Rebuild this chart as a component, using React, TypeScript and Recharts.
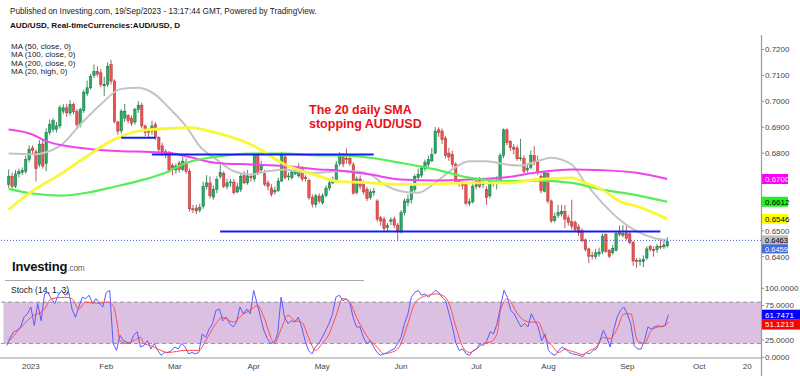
import React from 'react'
import {
  ComposedChart,
  Bar,
  Line,
  XAxis,
  YAxis,
  ReferenceLine,
  ReferenceArea,
} from 'recharts'

// AUD/USD daily, late Dec 2022 -> 19 Sep 2023. One slot per trading day,
// two empty slots on the left and empty future slots up to late October.
const LEAD_SLOTS = 2
const SLOT_COUNT = 223

// [open, high, low, close]
const CANDLES: [number, number, number, number][] = [
  [0.6679, 0.6737, 0.6666, 0.6711], [0.6711, 0.6725, 0.666, 0.6672], [0.6672, 0.6735, 0.6665, 0.672], [0.672, 0.674, 0.6705, 0.6728],
  [0.6726, 0.6745, 0.6715, 0.6733], [0.673, 0.679, 0.672, 0.6775], [0.6775, 0.683, 0.6765, 0.6815], [0.682, 0.683, 0.6795, 0.681],
  [0.6805, 0.6815, 0.669, 0.674], [0.6756, 0.685, 0.6745, 0.6835], [0.6835, 0.6855, 0.674, 0.675], [0.676, 0.6895, 0.673, 0.688],
  [0.688, 0.693, 0.687, 0.691], [0.6892, 0.6935, 0.688, 0.6925], [0.6892, 0.692, 0.688, 0.6905], [0.6905, 0.6985, 0.6895, 0.6975],
  [0.6962, 0.699, 0.695, 0.6975], [0.6975, 0.699, 0.694, 0.6955], [0.6955, 0.7005, 0.6945, 0.6988], [0.6988, 0.6995, 0.695, 0.696],
  [0.696, 0.697, 0.689, 0.691], [0.691, 0.6975, 0.69, 0.6968], [0.6965, 0.7045, 0.6955, 0.7035], [0.703, 0.708, 0.702, 0.7052],
  [0.7052, 0.7105, 0.7045, 0.7095], [0.71, 0.7142, 0.709, 0.7115], [0.7115, 0.7135, 0.7095, 0.7105], [0.711, 0.7125, 0.7055, 0.7065],
  [0.706, 0.7095, 0.702, 0.7065], [0.7065, 0.715, 0.7055, 0.7135], [0.7142, 0.716, 0.7065, 0.7078], [0.7078, 0.7085, 0.6915, 0.6922],
  [0.692, 0.6925, 0.687, 0.6885], [0.6886, 0.697, 0.6875, 0.6962], [0.6935, 0.699, 0.692, 0.6962], [0.6945, 0.695, 0.6915, 0.6925],
  [0.6935, 0.6945, 0.6905, 0.6915], [0.692, 0.6975, 0.691, 0.6968], [0.6968, 0.7, 0.6955, 0.6985], [0.6985, 0.6995, 0.6895, 0.6905],
  [0.6905, 0.691, 0.6865, 0.688], [0.6888, 0.6895, 0.686, 0.688], [0.6885, 0.6925, 0.687, 0.6905], [0.691, 0.692, 0.685, 0.686],
  [0.686, 0.6865, 0.68, 0.6815], [0.6828, 0.684, 0.679, 0.6805], [0.6805, 0.6815, 0.678, 0.6795], [0.68, 0.6808, 0.6725, 0.6733],
  [0.6752, 0.676, 0.6715, 0.6742], [0.6735, 0.676, 0.672, 0.675], [0.6762, 0.677, 0.6725, 0.6737], [0.6737, 0.6785, 0.673, 0.6769],
  [0.6765, 0.678, 0.672, 0.673], [0.673, 0.674, 0.6575, 0.6585], [0.6585, 0.66, 0.6568, 0.6582], [0.6588, 0.66, 0.6565, 0.6576],
  [0.658, 0.6605, 0.657, 0.659], [0.6595, 0.669, 0.6585, 0.6672], [0.6672, 0.6715, 0.666, 0.6685], [0.6685, 0.671, 0.6625, 0.6635],
  [0.663, 0.6675, 0.662, 0.666], [0.666, 0.671, 0.6645, 0.6698], [0.671, 0.6755, 0.67, 0.6725], [0.6722, 0.673, 0.6665, 0.6672],
  [0.6672, 0.67, 0.666, 0.6685], [0.6685, 0.67, 0.667, 0.6689], [0.6688, 0.67, 0.664, 0.6647], [0.665, 0.6685, 0.6645, 0.667],
  [0.666, 0.6725, 0.665, 0.671], [0.6713, 0.673, 0.668, 0.6685], [0.6685, 0.6735, 0.6678, 0.6712], [0.671, 0.672, 0.669, 0.6705],
  [0.67, 0.6795, 0.669, 0.679], [0.679, 0.6798, 0.6715, 0.6725], [0.6735, 0.677, 0.6725, 0.6752], [0.672, 0.6735, 0.6672, 0.668],
  [0.6685, 0.6695, 0.6655, 0.6672], [0.6665, 0.668, 0.6632, 0.664], [0.665, 0.667, 0.664, 0.6655], [0.6655, 0.6705, 0.665, 0.6692],
  [0.6692, 0.6805, 0.6688, 0.679], [0.6785, 0.68, 0.6698, 0.6705], [0.671, 0.6725, 0.6695, 0.6712], [0.6705, 0.6735, 0.6698, 0.6727],
  [0.672, 0.6745, 0.6715, 0.6728], [0.6712, 0.676, 0.6705, 0.6745], [0.674, 0.675, 0.669, 0.67], [0.6705, 0.6715, 0.669, 0.6702],
  [0.6695, 0.6702, 0.662, 0.6628], [0.6628, 0.664, 0.659, 0.6603], [0.6602, 0.6642, 0.659, 0.6635], [0.6634, 0.6645, 0.6605, 0.6615],
  [0.6608, 0.6645, 0.66, 0.6635], [0.6637, 0.6675, 0.663, 0.6665], [0.6665, 0.6695, 0.6655, 0.6685], [0.6685, 0.671, 0.668, 0.6695],
  [0.669, 0.677, 0.6685, 0.6755], [0.676, 0.6805, 0.675, 0.679], [0.6788, 0.68, 0.6745, 0.6758], [0.678, 0.6818, 0.676, 0.6775],
  [0.678, 0.6795, 0.675, 0.676], [0.6755, 0.6765, 0.664, 0.6645], [0.6648, 0.671, 0.664, 0.67], [0.67, 0.6715, 0.666, 0.6672],
  [0.6685, 0.6695, 0.664, 0.665], [0.666, 0.667, 0.6615, 0.6625], [0.6628, 0.666, 0.662, 0.665], [0.665, 0.6665, 0.6635, 0.6652],
  [0.6615, 0.6622, 0.6535, 0.6545], [0.655, 0.6558, 0.652, 0.6538], [0.6545, 0.6555, 0.6495, 0.6508], [0.6512, 0.653, 0.6495, 0.652],
  [0.6537, 0.6552, 0.6522, 0.6542], [0.6546, 0.6555, 0.651, 0.6522], [0.6522, 0.653, 0.646, 0.65], [0.65, 0.658, 0.649, 0.657],
  [0.657, 0.6625, 0.656, 0.6615], [0.661, 0.664, 0.6595, 0.662], [0.662, 0.668, 0.6605, 0.6672], [0.666, 0.6718, 0.665, 0.671],
  [0.6705, 0.674, 0.6695, 0.6718], [0.6715, 0.6752, 0.6705, 0.6743], [0.674, 0.6775, 0.673, 0.6765], [0.6757, 0.679, 0.674, 0.6775],
  [0.677, 0.682, 0.6765, 0.6795], [0.68, 0.69, 0.6795, 0.6885], [0.689, 0.69, 0.6862, 0.688], [0.6885, 0.6895, 0.6835, 0.6852],
  [0.6858, 0.6865, 0.678, 0.679], [0.68, 0.682, 0.677, 0.6785], [0.6795, 0.681, 0.6745, 0.6757], [0.6757, 0.6765, 0.668, 0.6686],
  [0.669, 0.67, 0.667, 0.6682], [0.6685, 0.6695, 0.666, 0.6675], [0.668, 0.669, 0.6598, 0.6607], [0.6605, 0.6625, 0.6595, 0.6612],
  [0.6612, 0.669, 0.6605, 0.6672], [0.6672, 0.6705, 0.666, 0.669], [0.6695, 0.6708, 0.6665, 0.6672], [0.6678, 0.67, 0.6665, 0.6685],
  [0.666, 0.6672, 0.66, 0.6628], [0.6635, 0.67, 0.6625, 0.669], [0.6688, 0.67, 0.667, 0.6682], [0.6685, 0.671, 0.666, 0.6695],
  [0.669, 0.68, 0.6685, 0.679], [0.679, 0.6895, 0.678, 0.689], [0.689, 0.6895, 0.683, 0.684], [0.6845, 0.685, 0.6808, 0.6822],
  [0.6822, 0.6835, 0.6795, 0.6815], [0.682, 0.683, 0.677, 0.6778], [0.6778, 0.6855, 0.677, 0.6782], [0.678, 0.6792, 0.672, 0.673],
  [0.6735, 0.676, 0.6725, 0.6742], [0.6745, 0.681, 0.6738, 0.679], [0.679, 0.6827, 0.6752, 0.6763], [0.6765, 0.679, 0.6715, 0.6725],
  [0.671, 0.672, 0.6645, 0.6655], [0.6652, 0.673, 0.6648, 0.6725], [0.6722, 0.6728, 0.6605, 0.6615], [0.6615, 0.662, 0.653, 0.6538],
  [0.654, 0.657, 0.6532, 0.6555], [0.656, 0.66, 0.655, 0.657], [0.6565, 0.66, 0.6555, 0.6575], [0.6575, 0.66, 0.651, 0.6545],
  [0.655, 0.656, 0.652, 0.6533], [0.6535, 0.662, 0.6505, 0.6518], [0.6532, 0.654, 0.6495, 0.6505], [0.6515, 0.6525, 0.648, 0.6493],
  [0.65, 0.651, 0.6455, 0.6462], [0.6465, 0.647, 0.642, 0.6428], [0.643, 0.6435, 0.6375, 0.6402], [0.6405, 0.642, 0.639, 0.6402],
  [0.64, 0.643, 0.639, 0.6415], [0.641, 0.6435, 0.64, 0.6418], [0.642, 0.649, 0.641, 0.648], [0.6485, 0.649, 0.6415, 0.642],
  [0.6425, 0.643, 0.6395, 0.6402], [0.6415, 0.6445, 0.6408, 0.6432], [0.6425, 0.6495, 0.642, 0.649], [0.6495, 0.652, 0.6478, 0.6485],
  [0.6483, 0.6522, 0.6475, 0.649], [0.6492, 0.6522, 0.6465, 0.647], [0.6488, 0.6495, 0.6448, 0.6455], [0.6455, 0.646, 0.6365, 0.6383],
  [0.6385, 0.6395, 0.6357, 0.6382], [0.6383, 0.6395, 0.6365, 0.6385], [0.6382, 0.6405, 0.636, 0.639], [0.6395, 0.644, 0.6388, 0.643],
  [0.644, 0.6445, 0.642, 0.6428], [0.6428, 0.644, 0.64, 0.6425], [0.6428, 0.645, 0.6415, 0.644], [0.644, 0.6465, 0.6428, 0.6438],
  [0.6438, 0.647, 0.643, 0.6445], [0.6442, 0.6475, 0.6435, 0.6459],
]

// moving averages, [candle index, value]
const MA50: [number, number][] = [
  [0, 0.6582], [7, 0.6653], [15, 0.6717], [23, 0.6788], [31, 0.6853], [38, 0.6885], [47, 0.6895], [53, 0.6898],
  [61, 0.6878], [71, 0.6833], [81, 0.6756], [91, 0.6711], [96, 0.6692], [106, 0.6685], [115, 0.6679], [125, 0.6681],
  [135, 0.6685], [146, 0.6685], [155, 0.6698], [165, 0.6704], [169, 0.6685], [174, 0.6659], [179, 0.6614], [184, 0.6595],
  [193, 0.6546],
]
const MA100: [number, number][] = [
  [0, 0.6662], [7, 0.6644], [15, 0.6636], [23, 0.6647], [31, 0.667], [38, 0.6692], [46, 0.6724], [52, 0.6762],
  [61, 0.6786], [71, 0.6798], [81, 0.6798], [91, 0.6791], [96, 0.6791], [106, 0.6782], [115, 0.6762], [125, 0.6737],
  [135, 0.6705], [146, 0.6692], [155, 0.6694], [165, 0.6685], [174, 0.6659], [184, 0.6638], [193, 0.6612],
]
const MA200: [number, number][] = [
  [0, 0.6891], [7, 0.6872], [11, 0.6846], [17, 0.6827], [25, 0.6814], [33, 0.6807], [40, 0.6805], [47, 0.6801],
  [52, 0.6788], [61, 0.6762], [71, 0.6756], [81, 0.675], [91, 0.6737], [96, 0.6734], [106, 0.6717], [115, 0.6698],
  [125, 0.6694], [135, 0.6698], [146, 0.6707], [155, 0.6726], [165, 0.6737], [174, 0.6734], [184, 0.6724], [193, 0.67],
]
const MA20_HIGH: [number, number][] = [
  [0, 0.6798], [7, 0.6795], [15, 0.6827], [21, 0.691], [27, 0.6988], [33, 0.7048], [38, 0.7052], [43, 0.7026],
  [47, 0.6975], [52, 0.6904], [56, 0.6827], [61, 0.6775], [66, 0.673], [71, 0.6717], [76, 0.673], [81, 0.6737],
  [86, 0.6726], [91, 0.6724], [96, 0.673], [101, 0.673], [106, 0.6717], [110, 0.6679], [115, 0.6653], [120, 0.6647],
  [125, 0.6685], [130, 0.6737], [135, 0.6769], [140, 0.6769], [146, 0.6756], [150, 0.6752], [155, 0.6769], [159, 0.6782],
  [165, 0.6756], [169, 0.6685], [174, 0.6608], [179, 0.6544], [184, 0.6499], [189, 0.6473], [193, 0.6463],
]

// Stoch (14, 1, 3): %K per candle, %D read at sample candles
const STOCH_K: number[] = [
  17, 29, 37, 39, 44, 58, 63, 73, 46, 78, 53, 92, 94, 85, 78, 90, 97, 90, 96, 70,
  58, 73, 87, 85, 90, 78, 85, 78, 73, 94, 97, 20, 10, 32, 24, 22, 20, 32, 37, 15,
  17, 24, 12, 20, 10, 3, 7, 7, 10, 15, 12, 20, 15, 5, 7, 5, 7, 34, 29, 41,
  49, 68, 70, 53, 58, 49, 44, 51, 73, 63, 70, 63, 97, 78, 58, 39, 27, 20, 22, 34,
  87, 58, 49, 53, 51, 58, 44, 24, 10, 5, 15, 20, 29, 39, 49, 63, 87, 90, 82, 85,
  80, 58, 44, 44, 29, 20, 24, 15, 7, 3, 5, 7, 10, 12, 20, 29, 49, 63, 87, 94,
  97, 90, 92, 87, 92, 97, 94, 87, 82, 63, 44, 20, 10, 12, 5, 3, 10, 12, 20, 17,
  24, 37, 34, 49, 73, 97, 87, 68, 63, 53, 44, 49, 44, 63, 53, 44, 24, 34, 10, 5,
  3, 10, 15, 12, 7, 5, 4, 3, 1, 7, 5, 10, 12, 24, 39, 29, 15, 39, 58, 68,
  73, 63, 49, 17, 12, 12, 24, 44, 41, 44, 46, 44, 46, 61.7,
]
const STOCH_D: [number, number][] = [
  [0, 20], [3, 37], [7, 58], [11, 70], [13, 85], [17, 87], [19, 85], [21, 70], [23, 80], [27, 78], [29, 80],
  [31, 75], [32, 55], [33, 24], [35, 20], [37, 24], [39, 29], [40, 20], [42, 17], [44, 12], [47, 7], [52, 10],
  [56, 10], [58, 24], [61, 49], [63, 58], [66, 51], [69, 63], [71, 68], [73, 75], [75, 58], [77, 29], [78, 20],
  [80, 41], [82, 61], [84, 53], [86, 51], [88, 29], [90, 10], [92, 20], [94, 34], [96, 60], [98, 85], [100, 80],
  [102, 58], [104, 39], [106, 24], [108, 15], [110, 5], [112, 7], [114, 12], [115, 20], [117, 49], [119, 78],
  [121, 87], [123, 90], [125, 92], [127, 90], [129, 78], [131, 44], [133, 15], [135, 7], [137, 12], [139, 20],
  [141, 22], [143, 34], [144, 68], [146, 85], [149, 63], [151, 53], [153, 51], [155, 51], [157, 29], [159, 17],
  [161, 7], [163, 12], [164, 10], [166, 7], [168, 4], [170, 10], [172, 15], [174, 29], [176, 27], [178, 41],
  [180, 63], [182, 63], [184, 24], [186, 20], [188, 39], [190, 44], [192, 46], [193, 51.1],
]

// first trading day of each month (candle index) and its label
const MONTH_TICKS: [number, string][] = [
  [7, '2023'], [29, 'Feb'], [49, 'Mar'], [72, 'Apr'], [92, 'May'], [115, 'Jun'],
  [137, 'Jul'], [158, 'Aug'], [181, 'Sep'], [202, 'Oct'], [216, '20'],
]

// hand drawn horizontal levels: [from candle, to candle, price]
const LEVELS: [number, number, number][] = [
  [33, 43, 0.6859],
  [42, 107, 0.6795],
  [62, 191, 0.6497],
]

const PRICE_TICKS = [0.64, 0.65, 0.68, 0.69, 0.7, 0.71, 0.72]
const STOCH_TICKS = [0, 25, 75, 100]

const UP = '#20b060'
const UP_EDGE = '#1a6d44'
const DOWN = '#ef5350'
const DOWN_EDGE = '#a83232'
const FONT = 'Arial, "Liberation Sans", sans-serif'

const rows: Record<string, any>[] = Array.from({ length: SLOT_COUNT }, (_, slot) => {
  const i = slot - LEAD_SLOTS
  const row: Record<string, any> = { slot }
  const c = CANDLES[i]
  if (c) {
    row.o = c[0]
    row.h = c[1]
    row.l = c[2]
    row.c = c[3]
    row.range = [c[2], c[1]]
    row.stochK = STOCH_K[i]
  }
  return row
})
const put = (pts: [number, number][], key: string) =>
  pts.forEach(([i, v]) => { rows[i + LEAD_SLOTS][key] = v })
put(MA50, 'ma50')
put(MA100, 'ma100')
put(MA200, 'ma200')
put(MA20_HIGH, 'ma20h')
put(STOCH_D, 'stochD')

const tickLabel = new Map(MONTH_TICKS.map(([i, t]) => [i + LEAD_SLOTS, t]))

function Candle(props: any) {
  const { x, y, width, height, payload } = props
  if (!payload || payload.o == null) return null
  const { o, h, l, c } = payload
  const top = Math.min(y, y + height)
  const span = Math.abs(height)
  const py = (v: number) => top + ((h - v) / (h - l || 1)) * span
  const cx = x + width / 2
  const up = c >= o
  const bTop = py(Math.max(o, c))
  const bH = Math.max(1, py(Math.min(o, c)) - bTop)
  return (
    <g>
      <line x1={cx} x2={cx} y1={top} y2={top + span} stroke={up ? UP_EDGE : DOWN_EDGE} strokeWidth={0.8} />
      <rect x={cx - 1.2} y={bTop} width={2.4} height={bH} fill={up ? UP : DOWN} stroke={up ? UP_EDGE : DOWN_EDGE} strokeWidth={0.5} />
    </g>
  )
}

function Badge(props: any) {
  const { viewBox, text, bg, fg, dy = 0, w = 27, h = 10, fs = 8 } = props
  if (!viewBox) return null
  const x = viewBox.x + viewBox.width
  const y = viewBox.y + dy
  return (
    <g>
      <rect x={x} y={y - h / 2} width={w} height={h} fill={bg} />
      <text x={x + 4} y={y + fs * 0.35} fontSize={fs} fontFamily={FONT} fill={fg}>{text}</text>
    </g>
  )
}

const axisTick = { fontSize: 8, fill: '#444', fontFamily: FONT }

export default function App() {
  return (
    <div style={{ position: 'absolute', left: 0, top: 0, width: 800, height: 376, background: '#fff', overflow: 'hidden' }}>
      <div style={{ position: 'absolute', left: 0, top: 0 }}>
        <ComposedChart width={800} height={281} data={rows} margin={{ top: 35, right: 0, bottom: 1, left: 0 }}>
          <XAxis dataKey="slot" hide />
          <YAxis
            orientation="right"
            width={39}
            domain={[0.631, 0.7256]}
            allowDataOverflow
            ticks={PRICE_TICKS}
            interval={0}
            tickFormatter={(v: number) => v.toFixed(4)}
            tick={axisTick}
            tickSize={3}
            tickMargin={1}
            axisLine={false}
            tickLine={{ stroke: '#888' }}
          />
          <Bar dataKey="range" shape={<Candle />} isAnimationActive={false} />
          <Line dataKey="ma20h" type="monotone" stroke="#c4c4c4" strokeWidth={2} dot={false} connectNulls isAnimationActive={false} />
          <Line dataKey="ma200" type="monotone" stroke="#ee44ee" strokeWidth={2} dot={false} connectNulls isAnimationActive={false} />
          <Line dataKey="ma100" type="monotone" stroke="#55ee55" strokeWidth={2.2} dot={false} connectNulls isAnimationActive={false} />
          <Line dataKey="ma50" type="monotone" stroke="#f8f838" strokeWidth={2.8} dot={false} connectNulls isAnimationActive={false} />
          {LEVELS.map(([a, b, p], n) => (
            <ReferenceLine
              key={n}
              segment={[{ x: a + LEAD_SLOTS, y: p }, { x: b + LEAD_SLOTS, y: p }]}
              stroke="#1020ee"
              strokeWidth={2}
            />
          ))}
          <ReferenceLine y={0.67} stroke="none" label={<Badge text="0.6700" bg="#ff00ff" fg="#fff" />} />
          <ReferenceLine y={0.6612} stroke="none" label={<Badge text="0.6612" bg="#22ee22" fg="#000" />} />
          <ReferenceLine y={0.6546} stroke="none" label={<Badge text="0.6546" bg="#ffff00" fg="#000" />} />
          <ReferenceLine y={0.6463} stroke="#3b5bdb" strokeDasharray="1 2" label={<Badge text="0.6463" bg="#bdbdbd" fg="#000" fs={7.5} />} />
          <ReferenceLine y={0.6459} stroke="none" label={<Badge text="0.6459" bg="#4169e1" fg="#fff" dy={7.5} h={9} fs={7.5} />} />
        </ComposedChart>
      </div>

      <div style={{ position: 'absolute', left: 0, top: 281 }}>
        <ComposedChart width={800} height={95} data={rows} margin={{ top: 0, right: 0, bottom: 0, left: 0 }}>
          <XAxis
            dataKey="slot"
            height={18}
            ticks={MONTH_TICKS.map(([i]) => i + LEAD_SLOTS)}
            interval={0}
            tickFormatter={(v: number) => tickLabel.get(v) ?? ''}
            tick={axisTick}
            tickSize={4}
            tickMargin={1}
            tickLine={false}
            axisLine={{ stroke: '#999' }}
          />
          <YAxis
            orientation="right"
            width={39}
            domain={[-1, 110.6]}
            allowDataOverflow
            ticks={STOCH_TICKS}
            interval={0}
            tickFormatter={(v: number) => v.toFixed(4)}
            tick={axisTick}
            tickSize={3}
            tickMargin={1}
            axisLine={false}
            tickLine={{ stroke: '#888' }}
          />
          <ReferenceArea x1={1} x2={SLOT_COUNT - 1} y1={20} y2={80} fill="#dcc0e2" fillOpacity={1} stroke="none" />
          <ReferenceLine y={80} stroke="#999" strokeDasharray="4 3" />
          <ReferenceLine y={20} stroke="#999" strokeDasharray="4 3" />
          <Line dataKey="stochK" type="linear" stroke="#5a5aff" strokeWidth={1} dot={false} isAnimationActive={false} />
          <Line dataKey="stochD" type="monotone" stroke="#ff4b4b" strokeWidth={1} dot={false} connectNulls isAnimationActive={false} />
          <ReferenceLine y={61.7471} stroke="none" label={<Badge text="61.7471" bg="#0000ff" fg="#fff" w={39} />} />
          <ReferenceLine y={51.1213} stroke="none" label={<Badge text="51.1213" bg="#ff0000" fg="#fff" w={39} dy={2.5} />} />
        </ComposedChart>
      </div>

      <svg width={800} height={376} style={{ position: 'absolute', left: 0, top: 0, pointerEvents: 'none' }} fontFamily={FONT}>
        <text x={10} y={14} fontSize={8.2} fill="#222">
          Published on Investing.com, 19/Sep/2023 - 13:17:44 GMT, Powered by TradingView.
        </text>
        <text x={10} y={28} fontSize={8.1} fontWeight="bold" fill="#111">
          AUD/USD, Real-timeCurrencies:AUD/USD, D
        </text>
        {['MA (50, close, 0)', 'MA (100, close, 0)', 'MA (200, close, 0)', 'MA (20, high, 0)'].map((t, n) => (
          <text key={t} x={11} y={49 + n * 8.4} fontSize={8} fill="#222">{t}</text>
        ))}
        <text x={309} y={113.5} fontSize={12.5} fontWeight="bold" fill="#e8101a">The 20 daily SMA</text>
        <text x={309} y={128} fontSize={12.5} fontWeight="bold" fill="#e8101a">stopping AUD/USD</text>
        <text x={12} y={270.7} fontSize={13} fontWeight="bold" fill="#111" letterSpacing={-0.2}>
          Investing<tspan fontSize={8.4} fontWeight="normal" fill="#666">.com</tspan>
        </text>
        <line x1={5} x2={364} y1={280.5} y2={280.5} stroke="#aaa" strokeWidth={1} />
        <text x={11} y={293} fontSize={8.5} fill="#222">Stoch (14, 1, 3)</text>
        <line x1={761.5} x2={761.5} y1={35} y2={376} stroke="#999" strokeWidth={1.2} />
      </svg>
    </div>
  )
}
